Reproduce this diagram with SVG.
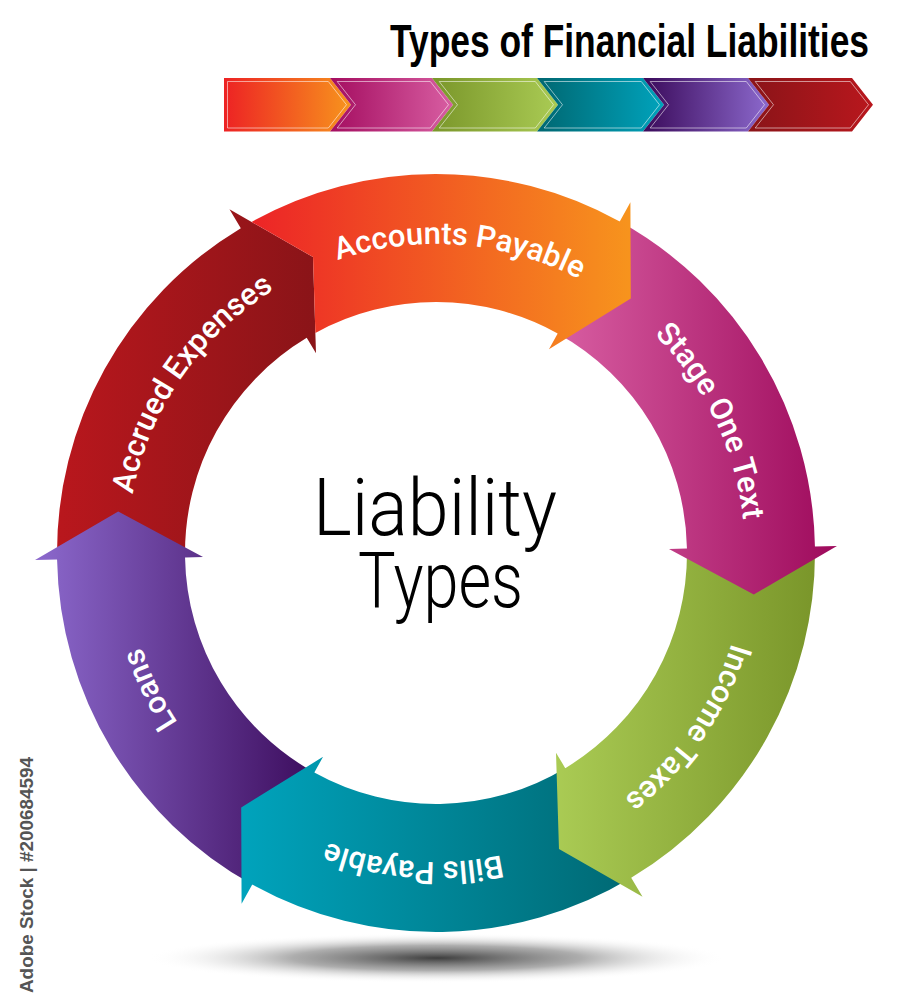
<svg xmlns="http://www.w3.org/2000/svg" width="908" height="1000" viewBox="0 0 908 1000">
<style>
.lbl{font-family:Roboto,"Liberation Sans",sans-serif;font-weight:500;font-size:31px;fill:#ffffff}
.inl{fill:none;stroke:#ffffff;stroke-opacity:0.55;stroke-width:1}
.big{font-family:Roboto,"Liberation Sans",sans-serif;font-weight:300;fill:#000000}
</style>
<defs>
<linearGradient id="gOrange" gradientUnits="userSpaceOnUse" x1="245" y1="0" x2="631" y2="0"><stop offset="0" stop-color="#ec2227"/><stop offset="1" stop-color="#f7941d"/></linearGradient>
<linearGradient id="gMagenta" gradientUnits="userSpaceOnUse" x1="557" y1="0" x2="837" y2="0"><stop offset="0" stop-color="#d85ea2"/><stop offset="1" stop-color="#9e0a5c"/></linearGradient>
<linearGradient id="gGreen" gradientUnits="userSpaceOnUse" x1="556" y1="0" x2="815" y2="0"><stop offset="0" stop-color="#aacb54"/><stop offset="1" stop-color="#7a962a"/></linearGradient>
<linearGradient id="gTeal" gradientUnits="userSpaceOnUse" x1="241" y1="0" x2="643" y2="0"><stop offset="0" stop-color="#00a3bc"/><stop offset="1" stop-color="#006771"/></linearGradient>
<linearGradient id="gPurple" gradientUnits="userSpaceOnUse" x1="35" y1="0" x2="323" y2="0"><stop offset="0" stop-color="#8c69cd"/><stop offset="1" stop-color="#3a0a5a"/></linearGradient>
<linearGradient id="gRed" gradientUnits="userSpaceOnUse" x1="57" y1="0" x2="316" y2="0"><stop offset="0" stop-color="#b9171d"/><stop offset="1" stop-color="#8a1418"/></linearGradient>
<linearGradient id="c1" gradientUnits="userSpaceOnUse" x1="224" y1="0" x2="351" y2="0"><stop offset="0" stop-color="#ed2224"/><stop offset="1" stop-color="#f7941d"/></linearGradient>
<linearGradient id="c2" gradientUnits="userSpaceOnUse" x1="330" y1="0" x2="453" y2="0"><stop offset="0" stop-color="#a40d60"/><stop offset="1" stop-color="#d85ea2"/></linearGradient>
<linearGradient id="c3" gradientUnits="userSpaceOnUse" x1="432" y1="0" x2="558" y2="0"><stop offset="0" stop-color="#7a962a"/><stop offset="1" stop-color="#aacb54"/></linearGradient>
<linearGradient id="c4" gradientUnits="userSpaceOnUse" x1="537" y1="0" x2="664" y2="0"><stop offset="0" stop-color="#006771"/><stop offset="1" stop-color="#00a3bc"/></linearGradient>
<linearGradient id="c5" gradientUnits="userSpaceOnUse" x1="643" y1="0" x2="769" y2="0"><stop offset="0" stop-color="#3a0a5a"/><stop offset="1" stop-color="#8c69cd"/></linearGradient>
<linearGradient id="c6" gradientUnits="userSpaceOnUse" x1="748" y1="0" x2="873" y2="0"><stop offset="0" stop-color="#8a1418"/><stop offset="1" stop-color="#b9171d"/></linearGradient>
<radialGradient id="gShadow" cx="0.5" cy="0.5" r="0.5"><stop offset="0" stop-color="#333333" stop-opacity="0.95"/><stop offset="0.5" stop-color="#777777" stop-opacity="0.6"/><stop offset="1" stop-color="#ffffff" stop-opacity="0"/></radialGradient>
<path id="tpAP" d="M131.24,502.00 A309,309 0 0 1 744.99,550.30"/>
<path id="tpST" d="M327.28,263.76 A309,309 0 0 1 593.29,818.97"/>
<path id="tpIT" d="M633.46,315.32 A309,309 0 0 1 282.90,821.41"/>
<path id="tpBP" d="M741.03,602.40 A309,309 0 0 1 127.03,557.31"/>
<path id="tpLO" d="M544.21,842.43 A309,309 0 0 1 279.17,286.76"/>
<path id="tpAE" d="M238.62,790.74 A309,309 0 0 1 589.10,284.59"/>
</defs>
<rect x="0" y="0" width="908" height="1000" fill="#ffffff"/>

<g id="title">
<text x="390" y="57" font-family="'Liberation Sans',Arial,sans-serif" font-weight="bold" font-size="47" textLength="479" lengthAdjust="spacingAndGlyphs" fill="#000000">Types of Financial Liabilities</text>
</g>

<g id="chevron-bar">
<path d="M224,78 H330 L351,104.75 L330,131.5 H224 Z" fill="url(#c1)"/>
<path d="M330,78 H432 L453,104.75 L432,131.5 H330 L351,104.75 Z" fill="url(#c2)"/>
<path d="M432,78 H537 L558,104.75 L537,131.5 H432 L453,104.75 Z" fill="url(#c3)"/>
<path d="M537,78 H643 L664,104.75 L643,131.5 H537 L558,104.75 Z" fill="url(#c4)"/>
<path d="M643,78 H748 L769,104.75 L748,131.5 H643 L664,104.75 Z" fill="url(#c5)"/>
<path d="M748,78 H852 L873,104.75 L852,131.5 H748 L769,104.75 Z" fill="url(#c6)"/>
<path class="inl" d="M227.5,81.5 H328.3 L346.5,104.75 L328.3,128 H227.5 Z"/>
<path class="inl" d="M337.2,81.5 H430.3 L448.5,104.75 L430.3,128 H337.2 L355.5,104.75 Z"/>
<path class="inl" d="M439.2,81.5 H535.3 L553.5,104.75 L535.3,128 H439.2 L457.5,104.75 Z"/>
<path class="inl" d="M544.2,81.5 H641.3 L659.5,104.75 L641.3,128 H544.2 L562.5,104.75 Z"/>
<path class="inl" d="M650.2,81.5 H746.3 L764.5,104.75 L746.3,128 H650.2 L668.5,104.75 Z"/>
<path class="inl" d="M755.2,81.5 H850.3 L868.5,104.75 L850.3,128 H755.2 L773.5,104.75 Z"/>
</g>

<g id="shadow">
<ellipse cx="437" cy="958" rx="290" ry="25" fill="url(#gShadow)"/>
</g>

<g id="ring">
<g id="accrued-expenses">
<path d="M57.06,559.61 A379,379 0 0 1 240.80,228.13 L229.47,209.27 L313.02,257.07 L316.00,353.28 L306.72,337.85 A251,251 0 0 0 185.04,557.38 Z" fill="url(#gRed)"/>
<text class="lbl" text-anchor="middle"><textPath href="#tpAE" startOffset="50%">Accrued Expenses</textPath></text>
</g>
<g id="loans">
<path d="M252.26,884.48 A379,379 0 0 1 57.06,559.61 L35.06,560.00 L118.23,511.54 L203.03,557.07 L185.04,557.38 A251,251 0 0 0 314.31,772.53 Z" fill="url(#gPurple)"/>
<text class="lbl" text-anchor="middle"><textPath href="#tpLO" startOffset="50%">Loans</textPath></text>
</g>
<g id="bills-payable">
<path d="M631.20,877.87 A379,379 0 0 1 252.26,884.48 L241.59,903.72 L241.21,807.46 L323.04,756.79 L314.31,772.53 A251,251 0 0 0 565.28,768.15 Z" fill="url(#gTeal)"/>
<text class="lbl" text-anchor="middle"><textPath href="#tpBP" startOffset="50%">Bills Payable</textPath></text>
</g>
<g id="income-taxes">
<path d="M814.94,546.39 A379,379 0 0 1 631.20,877.87 L642.53,896.73 L558.98,848.93 L556.00,752.72 L565.28,768.15 A251,251 0 0 0 686.96,548.62 Z" fill="url(#gGreen)"/>
<text class="lbl" text-anchor="middle"><textPath href="#tpIT" startOffset="50%">Income Taxes</textPath></text>
</g>
<g id="stage-one-text">
<path d="M619.74,221.52 A379,379 0 0 1 814.94,546.39 L836.94,546.00 L753.77,594.46 L668.97,548.93 L686.96,548.62 A251,251 0 0 0 557.69,333.47 Z" fill="url(#gMagenta)"/>
<text class="lbl" text-anchor="middle"><textPath href="#tpST" startOffset="50%">Stage One Text</textPath></text>
</g>
<g id="accounts-payable">
<path d="M251.55,221.90 A379,379 0 0 1 619.74,221.52 L630.41,202.28 L630.79,298.54 L548.96,349.21 L557.69,333.47 A251,251 0 0 0 315.37,332.89 L313.02,257.07 Z" fill="url(#gOrange)"/>
<text class="lbl" text-anchor="middle"><textPath href="#tpAP" startOffset="50%">Accounts Payable</textPath></text>
</g>
</g>

<g id="center-label">
<text class="big" x="313" y="535" font-size="80" textLength="244" lengthAdjust="spacingAndGlyphs">Liability</text>
<text class="big" x="358" y="607" font-size="78" textLength="165" lengthAdjust="spacingAndGlyphs">Types</text>
</g>

<g id="side-credit">
<text transform="translate(33,993) rotate(-90)" font-family="'Liberation Sans',Arial,sans-serif" font-weight="bold" font-size="18" textLength="236" lengthAdjust="spacingAndGlyphs" fill="#555555">Adobe Stock | #200684594</text>
</g>
</svg>
